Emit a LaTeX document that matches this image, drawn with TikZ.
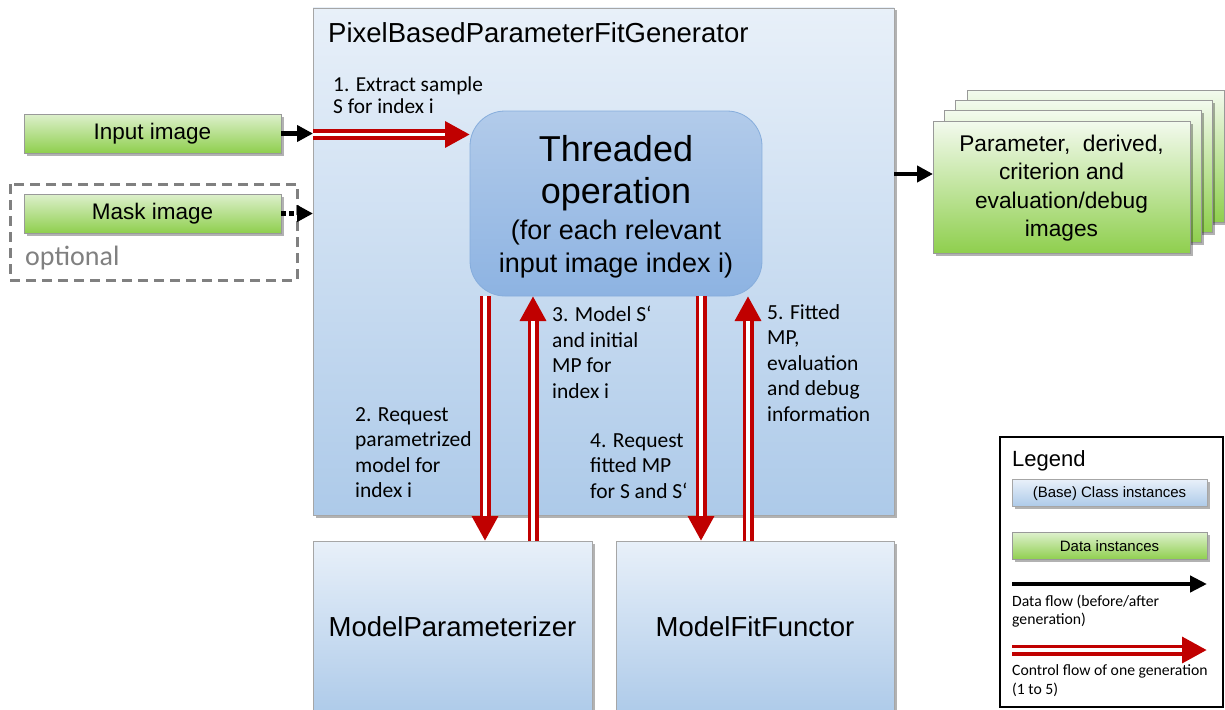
\documentclass[tikz,border=0pt]{standalone}
\usepackage{fontspec}
\setmainfont{Liberation Sans}
\newfontfamily\calib{Carlito}
\usetikzlibrary{arrows.meta,shadows}
\definecolor{cred}{HTML}{C00000}
\definecolor{btop}{HTML}{E8F0F9}
\definecolor{bbot}{HTML}{ADCAE9}
\definecolor{ttop}{HTML}{B2CBEA}
\definecolor{tbot}{HTML}{8DB3E2}
\definecolor{tborder}{HTML}{86ADDC}
\definecolor{gtop}{HTML}{DDF0CC}
\definecolor{gbot}{HTML}{8FCF4E}
\definecolor{otop}{HTML}{F3FAEE}
\definecolor{optgray}{HTML}{808080}
\begin{document}
\begin{tikzpicture}[x=1pt,y=-1pt,
  shad/.style={drop shadow={shadow xshift=2.5pt,shadow yshift=-2.5pt,opacity=0.3,fill=black}},
  classbox/.style={draw=black!35, line width=0.8pt, top color=btop, bottom color=bbot, outer sep=0pt, inner sep=0pt, shad},
  databox/.style={draw=black!40, line width=0.8pt, top color=gtop, bottom color=gbot, outer sep=0pt, inner sep=0pt, shad},
  outbox/.style={draw=black!40, line width=0.8pt, top color=otop, bottom color=gbot, outer sep=0pt, inner sep=0pt, shad},
  thrbox/.style={draw=tborder, line width=0.8pt, top color=ttop, bottom color=tbot, rounded corners=35pt, outer sep=0pt, inner sep=0pt},
  dflow/.style={line width=4.5pt, -{Triangle[length=16pt,width=16pt]}},
  ctrl/.style={draw=cred, line width=11pt, -{Triangle[length=25pt,width=25pt]}, postaction={draw=white, line width=3.5pt, -, shorten >=25pt}},
  note/.style={font=\calib\fontsize{21.5}{25.5}\selectfont, align=left, anchor=north west, inner sep=0pt},
  lnote/.style={font=\calib\fontsize{15.7}{18.5}\selectfont, align=left, anchor=north west, inner sep=0pt}
]
\useasboundingbox (0,0) rectangle (1225,709);
\fill[white] (0,0) rectangle (1225,709);

% main generator box
\node[classbox, minimum width=581pt, minimum height=507pt] (gen) at (603.5,261.5) {};
\node[anchor=base west, inner sep=0pt, font=\fontsize{27.5}{32}\selectfont] (title) at (328,43) {PixelBasedParameterFitGenerator};

% bottom class boxes
\node[classbox, minimum width=279pt, minimum height=175pt] (mp) at (452.5,628.5) {};
\node[font=\fontsize{27.5}{32}\selectfont, inner sep=0pt] (mpt) at (452.5,627) {ModelParameterizer};
\node[classbox, minimum width=278pt, minimum height=175pt] (mf) at (755,628.5) {};
\node[font=\fontsize{27.5}{32}\selectfont, inner sep=0pt] (mft) at (755,627) {ModelFitFunctor};

% threaded operation
\node[thrbox, minimum width=292pt, minimum height=185pt] (thr) at (616,203.5) {};
\node[align=center, inner sep=0pt, font=\fontsize{36}{42}\selectfont] (thrt) at (616,207)
  {Threaded\\operation\\[-6pt]{\fontsize{27}{31}\selectfont (for each relevant}\\[-9pt]{\fontsize{27}{31}\selectfont input image index i)}};

% inputs
\draw[optgray, line width=3pt, dash pattern=on 10pt off 6pt] (10,184) rectangle (297,280);
\node[databox, minimum width=257pt, minimum height=39pt] (inp) at (152.5,133.5) {};
\node[font=\fontsize{22.5}{26}\selectfont, inner sep=0pt] (inpt) at (152.5,134) {Input image};
\node[databox, minimum width=257pt, minimum height=39pt] (msk) at (152.5,213.5) {};
\node[font=\fontsize{22.5}{26}\selectfont, inner sep=0pt] (mskt) at (152.5,214) {Mask image};
\node[anchor=base west, inner sep=0pt, text=optgray, font=\calib\fontsize{28}{32}\selectfont] (opt) at (25,265) {optional};

% output stack
\node[outbox, minimum width=257pt, minimum height=132pt] (o4) at (1095.5,156) {};
\node[outbox, minimum width=257pt, minimum height=132pt] (o3) at (1084,166) {};
\node[outbox, minimum width=257pt, minimum height=132pt] (o2) at (1073,176.5) {};
\node[outbox, minimum width=257pt, minimum height=132pt] (o1) at (1061.5,187) {};
\node[align=center, inner sep=0pt, font=\fontsize{22.7}{28.5}\selectfont] (o1t) at (1061.5,188)
  {Parameter, \ derived,\\criterion and\\evaluation/debug\\images};

% data flow arrows
\draw[dflow] (inp.east) -- (inp.east -| gen.west);
\draw[dflow, dash pattern=on 5pt off 3pt] (msk.east) -- (msk.east -| gen.west);
\coordinate (g2o) at (gen.east |- 0,174);
\draw[dflow] (g2o) -- (g2o -| o1.west);

% control flow arrows
\coordinate (c1) at (gen.west |- 0,134.5);
\draw[ctrl] (c1) -- (c1 -| thr.west);
\coordinate (c2) at (485,296);
\draw[ctrl] (c2) -- (c2 |- mp.north);
\coordinate (c3) at (533,541);
\draw[ctrl] (c3) -- (c3 |- thr.south);
\coordinate (c4) at (701,296);
\draw[ctrl] (c4) -- (c4 |- mf.north);
\coordinate (c5) at (748,541);
\draw[ctrl] (c5) -- (c5 |- thr.south);

% labels
\node[note, font=\calib\fontsize{21.3}{22}\selectfont] (l1) at (333,76.5) {1. Extract sample\\S for index i};
\node[note] (l2) at (355,407) {2. Request\\parametrized\\model for\\index i};
\node[note] (l3) at (552,306) {3. Model S‘\\and initial\\MP for\\index i};
\node[note] (l4) at (590,433) {4. Request\\fitted MP\\for S and S‘};
\node[note] (l5) at (767,304) {5. Fitted\\MP,\\evaluation\\and debug\\information};

% legend
\node[draw=black, line width=1.5pt, minimum width=223pt, minimum height=270pt, inner sep=0pt, outer sep=0pt] (leg) at (1111.5,572) {};
\node[anchor=base west, inner sep=0pt, font=\fontsize{22}{26}\selectfont] (legt) at (1012,466) {Legend};
\node[classbox, minimum width=195pt, minimum height=27pt] (lb) at (1109.5,493) {};
\node[font=\fontsize{15}{18}\selectfont, inner sep=0pt] (lbt) at (1109.5,493.5) {(Base) Class instances};
\node[databox, minimum width=195pt, minimum height=27pt] (lg) at (1109.5,546) {};
\node[font=\fontsize{15}{18}\selectfont, inner sep=0pt] (lgt) at (1109.5,546.5) {Data instances};
\coordinate (ld1) at (1012,584);
\coordinate (ld2) at (1207,584);
\draw[line width=4.5pt, -{Triangle[length=17pt,width=16pt]}] (ld1) -- (ld2);
\node[lnote] (ldt) at (1012,594.5) {Data flow (before/after\\generation)};
\coordinate (lc1) at (1012,650);
\coordinate (lc2) at (1207,650);
\draw[ctrl] (lc1) -- (lc2);
\node[lnote] (lct) at (1012,664.5) {Control flow of one generation\\(1 to 5)};
\end{tikzpicture}
\end{document}
